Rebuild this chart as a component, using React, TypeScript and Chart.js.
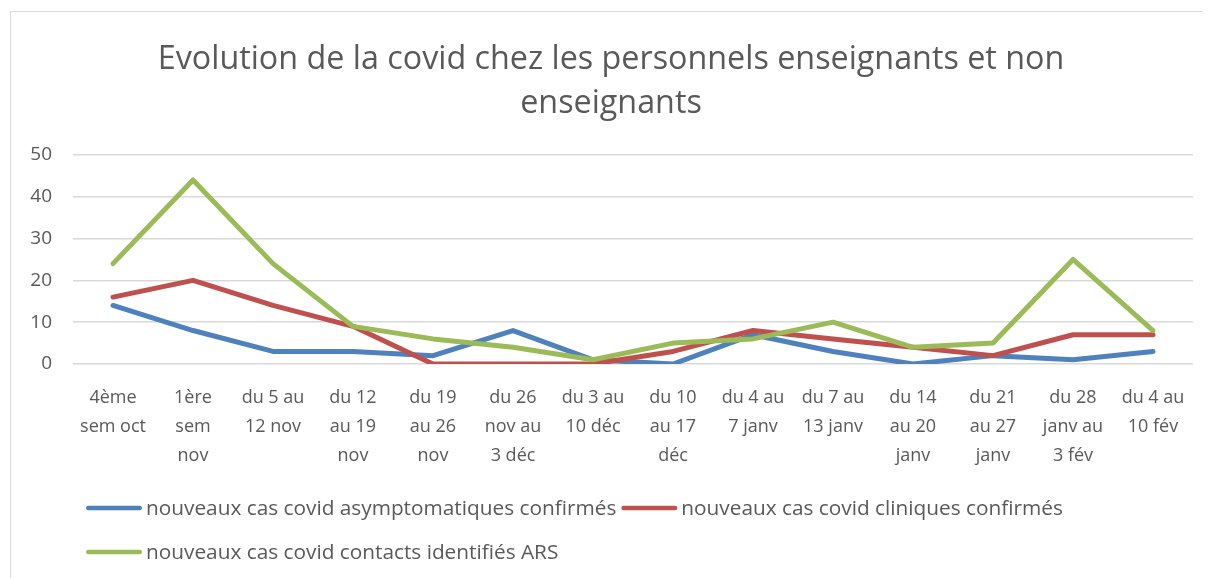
import React, { useEffect, useRef } from 'react';
import { Chart, registerables } from 'chart.js';

Chart.register(...registerables);

const categories: string[][] = [
  ['4ème', 'sem oct'],
  ['1ère', 'sem', 'nov'],
  ['du 5 au', '12 nov'],
  ['du 12', 'au 19', 'nov'],
  ['du 19', 'au 26', 'nov'],
  ['du 26', 'nov au', '3 déc'],
  ['du 3 au', '10 déc'],
  ['du 10', 'au 17', 'déc'],
  ['du 4 au', '7 janv'],
  ['du 7 au', '13 janv'],
  ['du 14', 'au 20', 'janv'],
  ['du 21', 'au 27', 'janv'],
  ['du 28', 'janv au', '3 fév'],
  ['du 4 au', '10 fév'],
];

const asymptomatiques = [14, 8, 3, 3, 2, 8, 1, 0, 7, 3, 0, 2, 1, 3];
const cliniques = [16, 20, 14, 9, 0, 0, 0, 3, 8, 6, 4, 2, 7, 7];
const contacts = [24, 44, 24, 9, 6, 4, 1, 5, 6, 10, 4, 5, 25, 8];

const seriesNames = [
  'nouveaux cas covid asymptomatiques confirmés',
  'nouveaux cas covid cliniques confirmés',
  'nouveaux cas covid contacts identifiés ARS',
];
const seriesColors = ['#4F81BD', '#C0504D', '#9BBB59'];

const titleLines = [
  'Evolution de la covid chez les personnels enseignants et non',
  'enseignants',
];

const yMin = 0;
const yMax = 50;
const yStep = 10;

const FONT = "'Open Sans', sans-serif";
const TEXT = '#595959';

const legendRows = [[0, 1], [2]];

const customLegend = {
  id: 'customLegend',
  afterDraw(chart: any) {
    const ctx = chart.ctx as CanvasRenderingContext2D;
    ctx.save();
    ctx.font = `20.8px ${FONT}`;
    ctx.textBaseline = 'middle';
    ctx.textAlign = 'left';
    const rowY = [500, 544];
    legendRows.forEach((row, r) => {
      let x = 78;
      const y = rowY[r];
      row.forEach((i) => {
        const ds = chart.data.datasets[i];
        ctx.strokeStyle = ds.borderColor;
        ctx.lineWidth = 4.5;
        ctx.lineCap = 'round';
        ctx.beginPath();
        ctx.moveTo(x + 2.25, y);
        ctx.lineTo(x + 53.75, y);
        ctx.stroke();
        x += 60;
        ctx.fillStyle = TEXT;
        ctx.fillText(ds.label, x, y + 1);
        x += ctx.measureText(ds.label).width + 5;
      });
    });
    ctx.restore();
  },
};

export default function App() {
  const ref = useRef<HTMLCanvasElement | null>(null);

  useEffect(() => {
    if (!ref.current) return;
    const series = [asymptomatiques, cliniques, contacts];
    const chart = new Chart(ref.current, {
      type: 'line',
      data: {
        labels: categories,
        datasets: series.map((d, i) => ({
          label: seriesNames[i],
          data: d,
          borderColor: seriesColors[i],
          backgroundColor: seriesColors[i],
          borderWidth: 5,
          pointRadius: 0,
          pointHoverRadius: 0,
          tension: 0,
          fill: false,
          borderCapStyle: 'round',
          borderJoinStyle: 'round',
          order: 3 - i,
        })),
      },
      options: {
        responsive: false,
        animation: false,
        devicePixelRatio: 1,
        layout: { padding: { left: 21, right: 17, top: 0, bottom: 104 } },
        plugins: {
          legend: { display: false },
          tooltip: { enabled: false },
          title: {
            display: true,
            text: titleLines,
            color: TEXT,
            font: { family: FONT, size: 32.3, weight: 'normal', lineHeight: 1.36 },
            padding: { top: 29.5, bottom: 29.5 },
          },
        },
        scales: {
          x: {
            offset: true,
            grid: { display: false, drawTicks: false },
            border: { display: false },
            ticks: {
              color: TEXT,
              font: { family: FONT, size: 18, lineHeight: 1.61 },
              padding: 19,
              maxRotation: 0,
              autoSkip: false,
            },
            afterFit: (scale: any) => {
              scale.height = 110;
            },
          },
          y: {
            min: yMin,
            max: yMax,
            grid: { color: '#D9D9D9', lineWidth: 1.5, drawTicks: false },
            border: { display: false },
            ticks: {
              stepSize: yStep,
              color: TEXT,
              font: { family: FONT, size: 19 },
              padding: 21,
            },
            afterFit: (scale: any) => {
              scale.width = 44;
            },
          },
        },
      },
      plugins: [customLegend],
    });
    return () => chart.destroy();
  }, []);

  return (
    <div style={{ position: 'relative', width: 1202, height: 570, overflow: 'hidden' }}>
      <div
        style={{
          position: 'absolute',
          left: 2,
          top: 3,
          width: 1400,
          height: 800,
          border: '1.5px solid #D9D9D9',
          boxSizing: 'border-box',
        }}
      />
      <canvas
        ref={ref}
        width={1202}
        height={570}
        style={{ position: 'absolute', left: 0, top: 0, width: 1202, height: 570 }}
      />
    </div>
  );
}
